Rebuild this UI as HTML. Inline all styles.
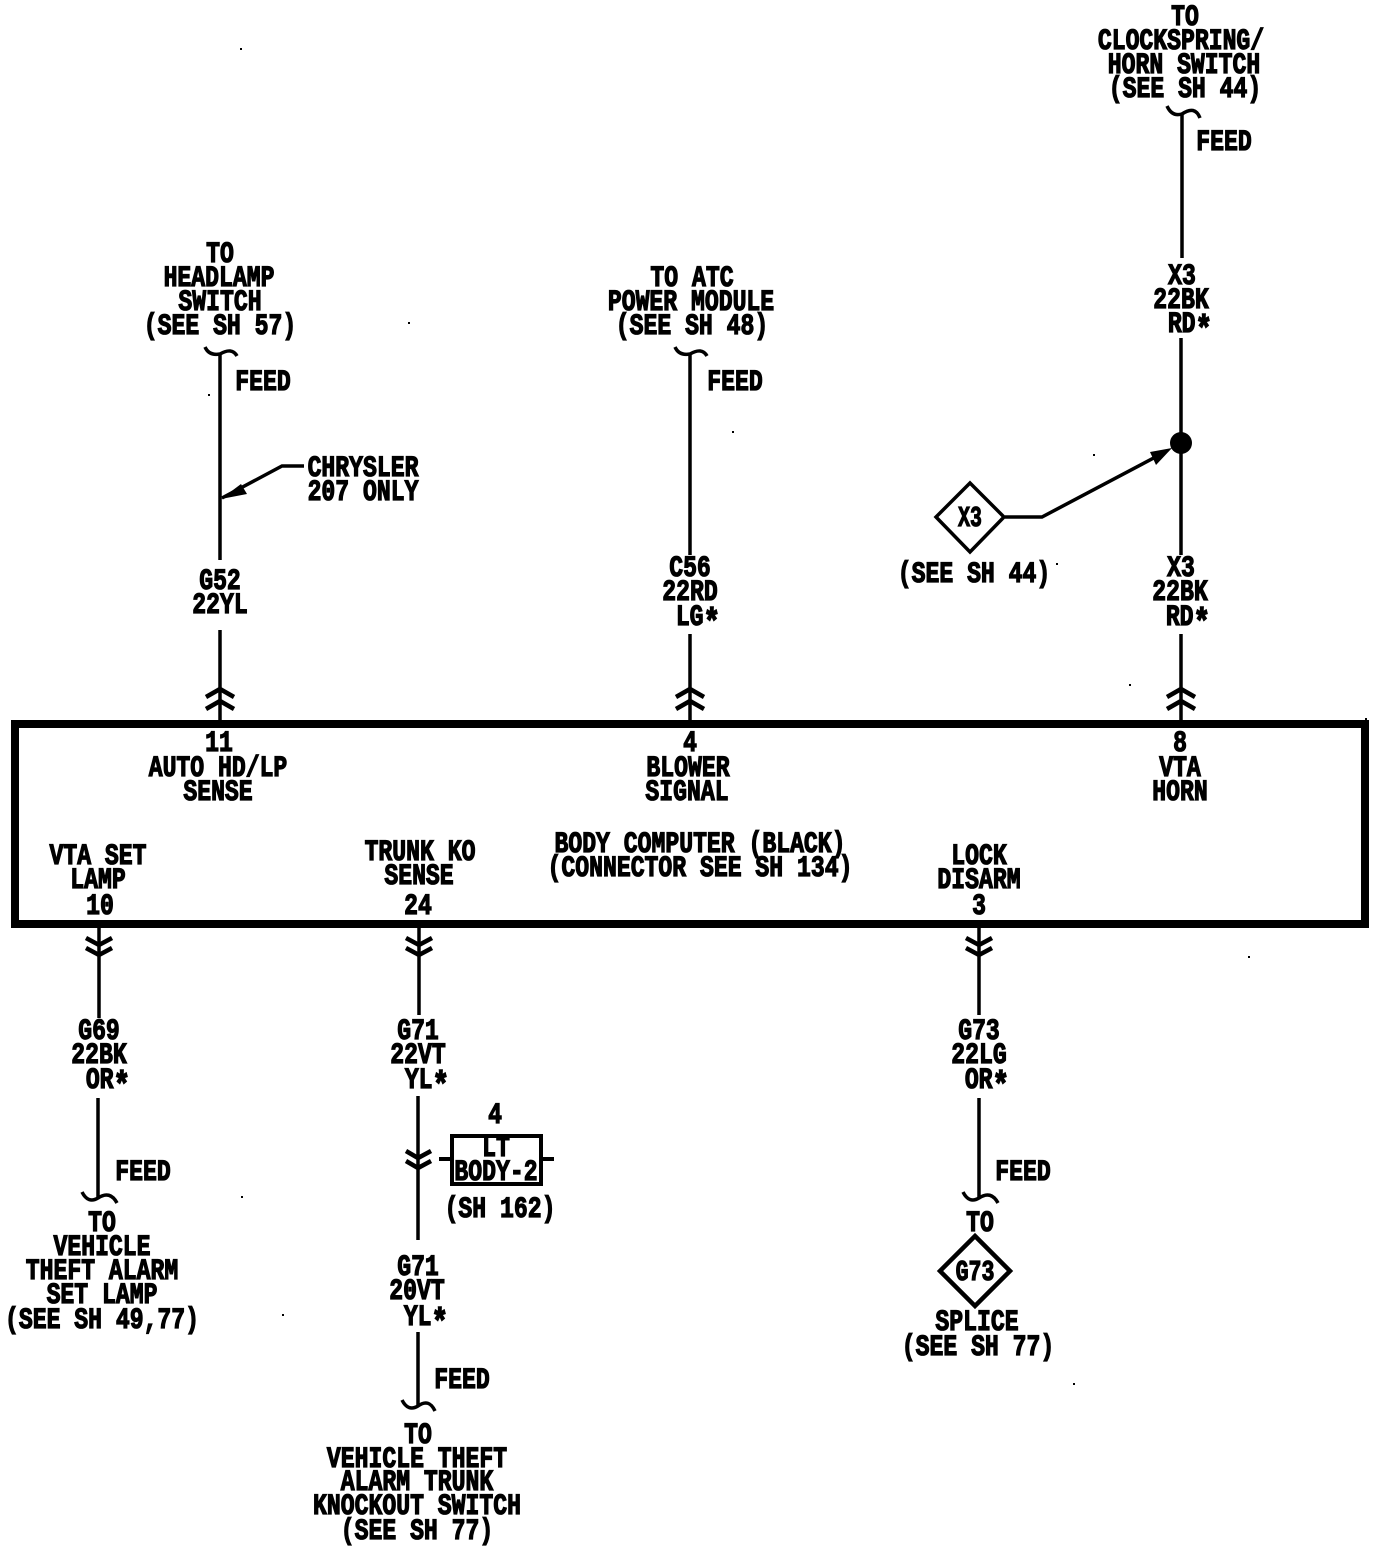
<!DOCTYPE html>
<html><head><meta charset="utf-8"><style>
html,body{margin:0;padding:0;background:#fff}
svg{display:block}
text{font-family:"Liberation Mono",monospace;font-weight:bold;font-size:30px;text-anchor:middle;fill:#000;stroke:#000;stroke-width:1.3}
.l{fill:none;stroke:#000;stroke-width:3.5}
.c{fill:none;stroke:#000;stroke-width:4.5}
.a{font-size:36px;stroke-width:1.6}
</style></head><body>
<svg width="1376" height="1550" viewBox="0 0 1376 1550" xmlns="http://www.w3.org/2000/svg">
<rect width="1376" height="1550" fill="#fff"/>
<rect x="15" y="724" width="1350" height="200" fill="none" stroke="#000" stroke-width="8"/>
<path class="l" d="M1182 114V258M1181 338V443M1181 443V555M1181 634V720M220 354V560M220 630V720M690 354V555M690 634V720M99 928V1018M98 1098V1197M419 928V1015M418 1096V1240M418 1332V1405M979 928V1015M979 1098V1197"/>
<!-- feed waves -->
<path class="l" d="M205 347Q209 356 220 354Q232 347 237 356M675 347Q679 356 690 354Q702 347 707 356M1167 106Q1172 117 1182 114Q1195 105 1200 118M82 1192Q88 1204 98 1198Q110 1190 117 1203M402 1400Q408 1412 418 1406Q429 1398 435 1411M963 1192Q969 1204 979 1198Q991 1190 998 1203"/>
<!-- up chevrons -->
<path class="c" d="M206 697L220 689L234 697M206 709L220 701L234 709M676 697L690 689L704 697M676 709L690 701L704 709M1167 697L1181 689L1195 697M1167 709L1181 701L1195 709"/>
<!-- down chevrons -->
<path class="c" d="M86 938L99 945L112 938M86 948L99 955L112 948M406 938L419 945L432 938M406 948L419 955L432 948M966 938L979 945L992 938M966 948L979 955L992 948M406 1151L418 1158L431 1151M406 1161L418 1168L431 1161"/>
<!-- chrysler leader -->
<path class="l" d="M304 466H282L222 498"/><path d="M221 499L241 484L247 494Z"/>
<!-- X3 -->
<circle cx="1181" cy="443" r="11"/>
<path class="l" d="M1005 517H1042L1165 452"/><path d="M1172 448L1150 452L1156 465Z"/>
<path class="l" d="M970 483L1004 517L970 552L936 517Z"/>
<path class="l" style="stroke-width:4.5" d="M975 1236L1010 1271L975 1306L940 1271Z"/>
<!-- LT box -->
<path class="l" style="stroke-width:4" d="M452 1136H541V1184H452ZM439 1159H452M541 1159H554"/>
<!-- specks -->
<path d="M240 48h2v2h-2zM408 322h2v2h-2zM208 394h2v2h-2zM1129 684h2v2h-2zM1248 956h2v2h-2zM732 431h2v2h-2zM1093 454h2v2h-2zM1056 563h2v2h-2zM282 1314h2v2h-2zM1073 1383h2v2h-2zM241 1196h2v2h-2zM1365 718h2v2h-2z"/>

<text transform="translate(1185 25) scale(.77 1)">TO</text>
<text transform="translate(1181 49) scale(.77 1)">CLOCKSPRING/</text>
<text transform="translate(1184 73) scale(.77 1)">HORN SWITCH</text>
<text transform="translate(1185 97) scale(.77 1)">(SEE SH 44)</text>
<text transform="translate(1224 150) scale(.77 1)">FEED</text>
<text transform="translate(1182 284) scale(.77 1)">X3</text>
<text transform="translate(1181 308) scale(.77 1)">22BK</text>
<text transform="translate(1190 332) scale(.77 1)">RD<tspan class="a" dy="8">*</tspan></text>
<text transform="translate(1181 576) scale(.77 1)">X3</text>
<text transform="translate(1180 600) scale(.77 1)">22BK</text>
<text transform="translate(1188 625) scale(.77 1)">RD<tspan class="a" dy="8">*</tspan></text>

<text transform="translate(220 262) scale(.77 1)">TO</text>
<text transform="translate(219 286) scale(.77 1)">HEADLAMP</text>
<text transform="translate(220 310) scale(.77 1)">SWITCH</text>
<text transform="translate(220 334) scale(.77 1)">(SEE SH 57)</text>
<text transform="translate(263 390) scale(.77 1)">FEED</text>
<text transform="translate(363 476) scale(.77 1)">CHRYSLER</text>
<text transform="translate(363 500) scale(.77 1)">207 ONLY</text>
<text transform="translate(220 589) scale(.77 1)">G52</text>
<text transform="translate(220 613) scale(.77 1)">22YL</text>

<text transform="translate(692 286) scale(.77 1)">TO ATC</text>
<text transform="translate(691 310) scale(.77 1)">POWER MODULE</text>
<text transform="translate(692 334) scale(.77 1)">(SEE SH 48)</text>
<text transform="translate(735 390) scale(.77 1)">FEED</text>
<text transform="translate(690 576) scale(.77 1)">C56</text>
<text transform="translate(690 600) scale(.77 1)">22RD</text>
<text transform="translate(698 625) scale(.77 1)">LG<tspan class="a" dy="8">*</tspan></text>

<text transform="translate(970 526) scale(.66 .95)">X3</text>
<text transform="translate(974 582) scale(.77 1)">(SEE SH 44)</text>

<text transform="translate(219 751) scale(.77 1)">11</text>
<text transform="translate(218 776) scale(.77 1)">AUTO HD/LP</text>
<text transform="translate(218 800) scale(.77 1)">SENSE</text>
<text transform="translate(690 751) scale(.77 1)">4</text>
<text transform="translate(688 776) scale(.77 1)">BLOWER</text>
<text transform="translate(687 800) scale(.77 1)">SIGNAL</text>
<text transform="translate(1180 751) scale(.77 1)">8</text>
<text transform="translate(1180 776) scale(.77 1)">VTA</text>
<text transform="translate(1180 800) scale(.77 1)">HORN</text>

<text transform="translate(98 864) scale(.77 1)">VTA SET</text>
<text transform="translate(98 888) scale(.77 1)">LAMP</text>
<text transform="translate(100 914) scale(.77 1)">10</text>
<text transform="translate(420 860) scale(.77 1)">TRUNK KO</text>
<text transform="translate(419 884) scale(.77 1)">SENSE</text>
<text transform="translate(418 914) scale(.77 1)">24</text>
<text transform="translate(700 852) scale(.77 1)">BODY COMPUTER (BLACK)</text>
<text transform="translate(700 876) scale(.77 1)">(CONNECTOR SEE SH 134)</text>
<text transform="translate(979 864) scale(.77 1)">LOCK</text>
<text transform="translate(979 888) scale(.77 1)">DISARM</text>
<text transform="translate(979 914) scale(.77 1)">3</text>

<text transform="translate(99 1039) scale(.77 1)">G69</text>
<text transform="translate(99 1063) scale(.77 1)">22BK</text>
<text transform="translate(108 1088) scale(.77 1)">OR<tspan class="a" dy="8">*</tspan></text>
<text transform="translate(143 1180) scale(.77 1)">FEED</text>
<text transform="translate(102 1231) scale(.77 1)">TO</text>
<text transform="translate(102 1255) scale(.77 1)">VEHICLE</text>
<text transform="translate(102 1279) scale(.77 1)">THEFT ALARM</text>
<text transform="translate(102 1303) scale(.77 1)">SET LAMP</text>
<text transform="translate(102 1328) scale(.77 1)">(SEE SH 49,77)</text>

<text transform="translate(418 1039) scale(.77 1)">G71</text>
<text transform="translate(418 1063) scale(.77 1)">22VT</text>
<text transform="translate(427 1088) scale(.77 1)">YL<tspan class="a" dy="8">*</tspan></text>
<text transform="translate(495 1123) scale(.77 1)">4</text>
<text transform="translate(496 1156) scale(.77 1)">LT</text>
<text transform="translate(496 1180) scale(.77 1)">BODY-2</text>
<text transform="translate(500 1217) scale(.77 1)">(SH 162)</text>
<text transform="translate(418 1275) scale(.77 1)">G71</text>
<text transform="translate(417 1299) scale(.77 1)">20VT</text>
<text transform="translate(426 1325) scale(.77 1)">YL<tspan class="a" dy="8">*</tspan></text>
<text transform="translate(462 1388) scale(.77 1)">FEED</text>
<text transform="translate(418 1443) scale(.77 1)">TO</text>
<text transform="translate(417 1467) scale(.77 1)">VEHICLE THEFT</text>
<text transform="translate(417 1490) scale(.77 1)">ALARM TRUNK</text>
<text transform="translate(417 1514) scale(.77 1)">KNOCKOUT SWITCH</text>
<text transform="translate(417 1539) scale(.77 1)">(SEE SH 77)</text>

<text transform="translate(979 1039) scale(.77 1)">G73</text>
<text transform="translate(979 1063) scale(.77 1)">22LG</text>
<text transform="translate(987 1088) scale(.77 1)">OR<tspan class="a" dy="8">*</tspan></text>
<text transform="translate(1023 1180) scale(.77 1)">FEED</text>
<text transform="translate(980 1231) scale(.77 1)">TO</text>
<text transform="translate(975 1280) scale(.72 .95)">G73</text>
<text transform="translate(977 1330) scale(.77 1)">SPLICE</text>
<text transform="translate(978 1355) scale(.77 1)">(SEE SH 77)</text>
</svg>
</body></html>
